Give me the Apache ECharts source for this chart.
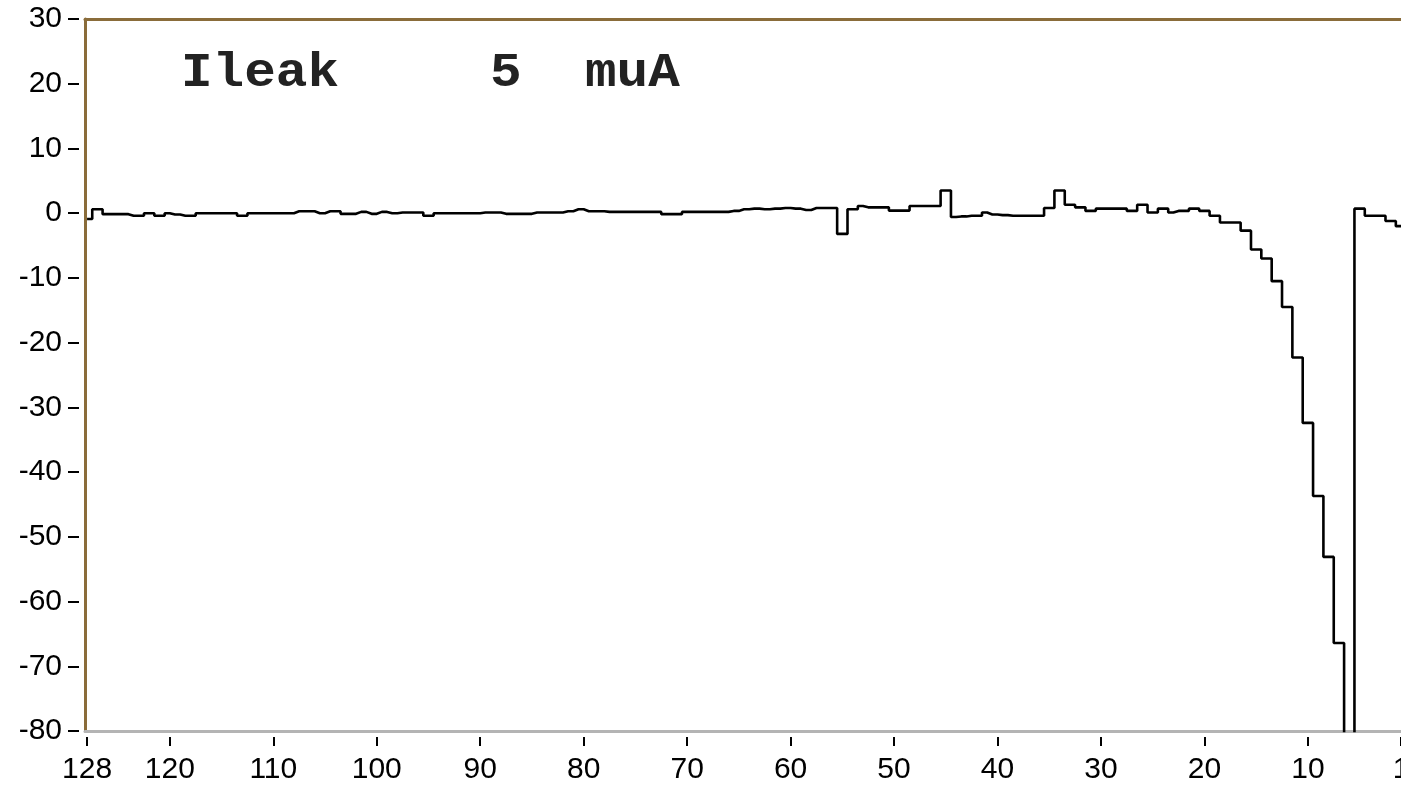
<!DOCTYPE html>
<html>
<head>
<meta charset="utf-8">
<script src="https://cdn.jsdelivr.net/npm/echarts@6/dist/echarts.min.js"></script>
<style>
html,body{margin:0;padding:0;background:#fff;}
#chart{width:1401px;height:785px;}
</style>
</head>
<body>
<div id="chart"></div>
<script>
// Channel numbers 1..128 and leakage current values (muA)
var channels = [];
for (var c = 1; c <= 128; c++) channels.push(c);

var ileak = [
  -2.0, -1.2, -0.4, -0.4, 0.7, -100, -66.4, -53.1, -43.7, -32.4,      // 1-10
  -22.3, -14.5, -10.5, -7.0, -5.6, -2.7, -1.45, -1.45, -0.4, 0.35,     // 11-20
  0.7, 0.35, 0.1, 0.7, 0.1, 1.3, 0.35, 0.7, 0.7, 0.7,                  // 21-30
  0.35, 0.9, 1.3, 3.5, 0.8, -0.4, -0.4, -0.4, -0.3, -0.2,              // 31-40
  0.1, -0.4, -0.5, -0.6, 3.5, 1.1, 1.1, 1.1, 0.4, 0.4,                 // 41-50
  0.9, 0.9, 1.1, 0.6, -3.2, 0.8, 0.8, 0.5, 0.7, 0.8,                   // 51-60
  0.7, 0.6, 0.7, 0.6, 0.35, 0.2, 0.2, 0.2, 0.2, 0.2,                   // 61-70
  -0.15, -0.15, 0.2, 0.2, 0.2, 0.2, 0.2, 0.3, 0.3, 0.6,                // 71-80
  0.3, 0.1, 0.1, 0.1, -0.1, -0.1, -0.1, 0.1, 0.1, 0,                   // 81-90
  0, 0, 0, 0, -0.4, 0.1, 0.1, 0, 0.2, -0.1,                            // 91-100
  0.2, -0.1, -0.1, 0.3, 0, 0.3, 0.3, 0, 0, 0,                          // 101-110
  0, 0, -0.4, 0, 0, 0, 0, -0.4, -0.2, 0,                               // 111-120
  -0.4, 0, -0.4, -0.15, -0.15, -0.15, 0.6, -0.9                        // 121-128
];

var xTickValues = [128, 120, 110, 100, 90, 80, 70, 60, 50, 40, 30, 20, 10, 1];
var titleParts = ['Ileak', '5', 'muA'];

var seriesData = channels.map(function (ch, i) { return [ch, ileak[i]]; });

var chart = echarts.init(document.getElementById('chart'), null, {renderer: 'canvas'});
var frameBrown = '#8a6c3a';
var labelFont = {fontFamily: 'Liberation Sans', fontSize: 30, color: '#000'};
var titleX = [181, 490, 585];

chart.setOption({
  backgroundColor: '#fff',
  animation: false,
  graphic: titleParts.map(function (t, i) {
    return {
      type: 'text',
      x: titleX[i],
      y: 50,
      scaleX: 1.097,
      scaleY: 1,
      silent: true,
      style: {
        text: t,
        fill: '#222',
        font: 'bold 48px "Liberation Mono"',
        textVerticalAlign: 'top'
      }
    };
  }),
  grid: {left: 85, right: 0, top: 19, bottom: 54, containLabel: false, outerBoundsMode: 'none'},
  xAxis: [
    {
      type: 'value', position: 'bottom', offset: 6,
      min: 1, max: 128.2, inverse: true,
      axisLine: {show: false, onZero: false},
      axisTick: {show: true, length: 9, lineStyle: {color: '#000', width: 2}, customValues: xTickValues},
      axisLabel: Object.assign({show: true, margin: 18, customValues: xTickValues}, labelFont),
      splitLine: {show: false}
    },
    {
      type: 'value', position: 'bottom', offset: 0,
      min: 1, max: 128.2, inverse: true,
      axisLine: {show: true, onZero: false, lineStyle: {color: '#b4b4b4', width: 3}},
      axisTick: {show: false}, axisLabel: {show: false}, splitLine: {show: false}
    },
    {
      type: 'value', position: 'top',
      min: 1, max: 128.2, inverse: true,
      axisLine: {show: true, onZero: false, lineStyle: {color: frameBrown, width: 3}},
      axisTick: {show: false}, axisLabel: {show: false}, splitLine: {show: false}
    }
  ],
  yAxis: [
    {
      type: 'value', min: -80, max: 30, interval: 10, position: 'left', offset: 6,
      axisLine: {show: false, onZero: false},
      axisTick: {show: true, length: 11, lineStyle: {color: '#000', width: 2}},
      axisLabel: Object.assign({margin: 17}, labelFont),
      splitLine: {show: false}
    },
    {
      type: 'value', min: -80, max: 30, interval: 10, position: 'left', offset: 0,
      axisLine: {show: true, onZero: false, lineStyle: {color: frameBrown, width: 3}},
      axisTick: {show: false}, axisLabel: {show: false}, splitLine: {show: false}
    }
  ],
  series: [{
    type: 'line',
    xAxisIndex: 0,
    yAxisIndex: 0,
    step: 'middle',
    data: seriesData,
    showSymbol: false,
    clip: true,
    lineStyle: {color: '#000', width: 2.6},
    emphasis: {disabled: true}
  }]
});
</script>
</body>
</html>
